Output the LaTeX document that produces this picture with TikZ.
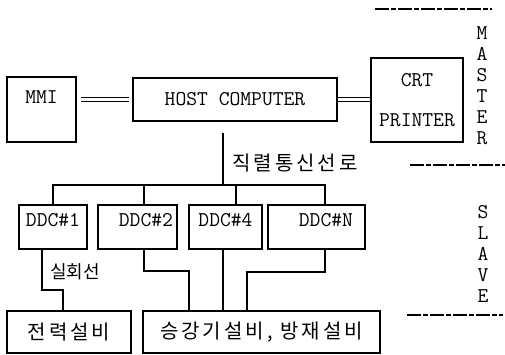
\documentclass[tikz,border=0pt]{standalone}
\usepackage{fontspec}
\newfontfamily\krfont[LetterSpace=15]{Noto Sans CJK KR}
\newfontfamily\krtight{Noto Sans CJK KR}
\usetikzlibrary{positioning,calc}
\tikzset{
  box/.style={draw,line width=1.1pt,inner sep=0pt,align=center,font=\ttfamily\fontsize{21}{21}\selectfont},
  ddc/.style={box,minimum height=44pt,text depth=14pt},
  equip/.style={draw,line width=1.1pt,inner sep=0pt,minimum height=42pt,font=\krfont\fontsize{20}{20}\selectfont},
  wire/.style={line width=1.1pt},
  dbl/.style={double,double distance=2.4pt,line width=1.1pt},
  sep/.style={line width=1.1pt,dash pattern=on 14pt off 2pt on 5pt off 2pt},
  lbl/.style={anchor=west,inner sep=0pt,font=\krfont\fontsize{20}{20}\selectfont},
  side/.style={align=center,inner sep=0pt,font=\ttfamily\fontsize{21}{21}\selectfont},
}
\begin{document}
\begin{tikzpicture}[x=1pt,y=-1pt]
  \useasboundingbox (0,0) rectangle (505,355);
  \node[box,minimum width=69pt,minimum height=65pt,text depth=24pt] (mmi) at (41.5,109.5) {MMI};
  \node[box,minimum width=204pt,minimum height=43pt] (host) at (235,99.5) {HOST COMPUTER};
  \node[box,minimum width=92pt,minimum height=84pt] (crt) at (417,100) {CRT\\[19pt]PRINTER};
  \draw[dbl,shorten <=4pt,shorten >=3pt] (mmi.east |- host.west) -- (host.west);
  \draw[dbl] (host.east) -- (host.east -| crt.west);
  \node[ddc,minimum width=68pt] (ddc1) at (53,227) {DDC\#1};
  \node[ddc,minimum width=79pt,text width=71pt,align=right] (ddc2) at (137.5,227) {DDC\#2};
  \node[ddc,minimum width=73pt] (ddc4) at (225.5,227) {DDC\#4};
  \node[ddc,minimum width=97pt,text width=73pt,align=right] (ddcN) at (316.5,227) {DDC\#N};
  \node[equip,minimum width=124pt] (power) at (69,332) {전력설비};
  \node[equip,minimum width=237pt] (lift) at (261.5,332) {승강기설비, 방재설비};
  \coordinate (t) at (223,133);
  \coordinate (bl) at (53,185);
  \coordinate (b2) at (144,185);
  \coordinate (b4) at (236,185);
  \coordinate (br) at (325,185);
  \draw[wire] (t) -- (t |- bl);
  \draw[wire] (ddc1.north) |- (br) -- (br |- ddcN.north);
  \draw[wire] (b2) -- (b2 |- ddc2.north);
  \draw[wire] (b4) -- (b4 |- ddc4.north);
  \node[lbl] (serial) at (232,163) {직렬통신선로};
  \coordinate (p1) at (42,290);
  \coordinate (q1) at (63,290);
  \coordinate (p2) at (144,271);
  \coordinate (q2) at (189,271);
  \coordinate (p4) at (223,280);
  \coordinate (pN) at (325,272);
  \coordinate (qN) at (247,272);
  \draw[wire] (p1 |- ddc1.south) -- (p1) -- (q1) -- (q1 |- power.north);
  \draw[wire] (p2 |- ddc2.south) -- (p2) -- (q2) -- (q2 |- lift.north);
  \draw[wire] (p4 |- ddc4.south) -- (p4 |- lift.north);
  \draw[wire] (pN |- ddcN.south) -- (pN) -- (qN) -- (qN |- lift.north);
  \node[lbl,font=\krtight\fontsize{18}{18}\selectfont] (real) at (50,272) {실회선};
  \node[side] (master) at (482,85.5) {M\\A\\S\\T\\E\\R};
  \node[side] (slave) at (483,254) {S\\L\\A\\V\\E};
  \draw[sep] (375,9) -- (492,9);
  \draw[sep] (410,165) -- (505,165);
  \draw[sep] (407,315) -- (503,315);
\end{tikzpicture}
\end{document}
